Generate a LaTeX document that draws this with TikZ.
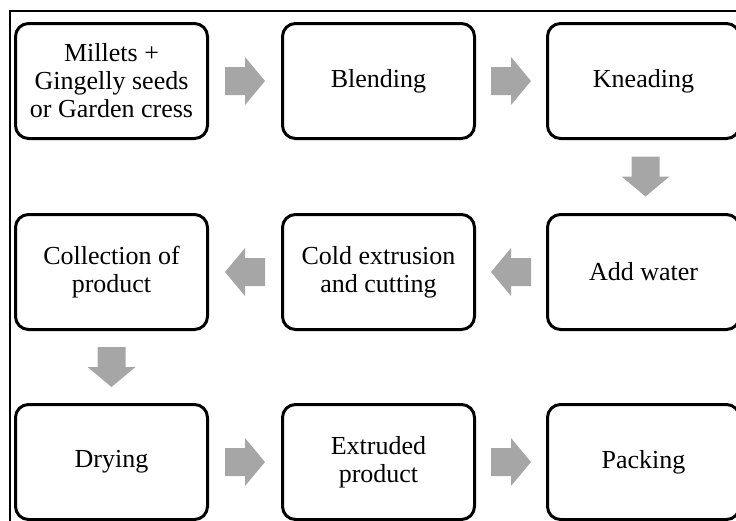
\documentclass[tikz,border=0pt]{standalone}
\usepackage{fontspec}
\setmainfont{Liberation Serif}
\usetikzlibrary{calc}
\definecolor{arrowgray}{HTML}{A6A6A6}
\tikzset{
  x=1pt, y=-1pt,
  stepbox/.style={draw=black, line width=3pt, rounded corners=13pt,
    minimum width=192pt, minimum height=115pt, inner sep=0pt, anchor=north west,
    align=center, font=\fontsize{26}{28}\selectfont},
  pics/blockarrow/.style={code={
    \fill[arrowgray] (-20,-14) -- (0,-14) -- (0,-24) -- (20,0) -- (0,24) -- (0,14) -- (-20,14) -- cycle;
  }}
}
\begin{document}
\begin{tikzpicture}
\useasboundingbox (0,0) rectangle (736,520);
\clip (0,0) rectangle (736,520);
\draw[line width=1.5pt] (10,530) -- (10,11) -- (740,11);
\node[stepbox] (b1) at (14,22) {Millets +\\Gingelly seeds\\or Garden cress};
\node[stepbox] (b2) at (281,22) {Blending};
\node[stepbox] (b3) at (546,22) {Kneading};
\node[stepbox] (b4) at (546,213) {Add water};
\node[stepbox] (b5) at (281,213) {Cold extrusion\\and cutting};
\node[stepbox] (b6) at (14,213) {Collection of\\product};
\node[stepbox] (b7) at (14,403) {Drying};
\node[stepbox] (b8) at (281,403) {Extruded\\product};
\node[stepbox] (b9) at (546,403) {Packing};
\pic at ($(b1.east)!0.5!(b2.west)$) {blockarrow};
\pic at ($(b2.east)!0.5!(b3.west)$) {blockarrow};
\pic[rotate=-90] at ($(b3.south)!0.5!(b4.north)+(2,0)$) {blockarrow};
\pic[rotate=180] at ($(b4.west)!0.5!(b5.east)$) {blockarrow};
\pic[rotate=180] at ($(b5.west)!0.5!(b6.east)$) {blockarrow};
\pic[rotate=-90] at ($(b6.south)!0.5!(b7.north)$) {blockarrow};
\pic at ($(b7.east)!0.5!(b8.west)$) {blockarrow};
\pic at ($(b8.east)!0.5!(b9.west)$) {blockarrow};
\end{tikzpicture}
\end{document}
